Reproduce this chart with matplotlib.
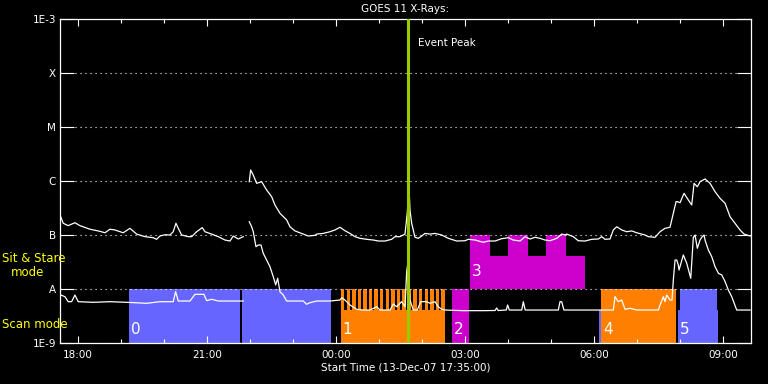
import matplotlib
matplotlib.use('Agg')
import matplotlib.pyplot as plt
import numpy as np

nan = float('nan')

# GOES 11 long channel (1-8 A); time in hours from 13-Dec-07 00:00 UT
long_time = [17.605, 17.658, 17.774, 17.930, 18.047, 18.279, 18.512, 18.628, 18.744, 18.860,
             19.053, 19.209, 19.365, 19.558, 19.751, 19.830, 19.907, 20.023, 20.140, 20.216,
             20.279, 20.333, 20.412, 20.565, 20.644, 20.760, 20.891, 20.953, 21.109, 21.263,
             21.419, 21.535, 21.612, 21.728, 21.844, 21.920,
             21.984, 22.016, 22.077, 22.156, 22.272, 22.388, 22.505, 22.581, 22.698, 22.853,
             22.930, 23.047, 23.202, 23.356, 23.512, 23.551, 23.705, 23.860, 23.977, 24.093,
             24.209, 24.326, 24.442, 24.558, 24.714, 24.867, 24.984, 25.140, 25.295, 25.372,
             25.488, 25.605, 25.658, 25.698, 25.721, 25.760, 25.837, 25.914, 25.993, 26.070,
             26.186, 26.302, 26.458, 26.612, 26.807, 27.000, 27.077, 27.233, 27.426, 27.542,
             27.698, 27.853, 28.007, 28.123, 28.279, 28.395, 28.512, 28.628, 28.744, 28.860,
             28.977, 29.133, 29.249, 29.326, 29.365, 29.519, 29.635, 29.791, 29.947, 30.100,
             30.179, 30.256, 30.372, 30.449, 30.528, 30.644, 30.760, 30.877, 30.993, 31.107,
             31.186, 31.263, 31.419, 31.535, 31.651, 31.767, 31.844, 31.907, 31.937, 32.000,
             32.093, 32.193, 32.272, 32.326, 32.402, 32.465, 32.581, 32.698, 32.814, 32.930,
             33.047, 33.163, 33.279, 33.395, 33.488, 33.628]
long_flux = [2.13e-7, 1.65e-7, 1.49e-7, 1.69e-7, 1.49e-7, 1.28e-7, 1.17e-7, 1.10e-7, 1.28e-7, 1.24e-7,
             1.10e-7, 1.33e-7, 1.04e-7, 9.31e-8, 8.91e-8, 8.32e-8, 9.58e-8, 1.01e-7, 1.00e-7, 1.15e-7,
             1.65e-7, 1.33e-7, 1.00e-7, 9.31e-8, 9.31e-8, 1.15e-7, 1.37e-7, 1.15e-7, 1.04e-7, 9.31e-8,
             8.07e-8, 7.74e-8, 9.58e-8, 8.43e-8, 9.31e-8, nan,
             9.70e-7, 1.60e-6, 1.29e-6, 9.06e-7, 9.70e-7, 6.81e-7, 5.12e-7, 3.60e-7, 2.52e-7, 1.90e-7,
             1.42e-7, 1.19e-7, 1.07e-7, 9.58e-8, 9.86e-8, 1.04e-7, 1.07e-7, 1.15e-7, 1.24e-7, 1.39e-7,
             1.20e-7, 1.07e-7, 9.31e-8, 8.68e-8, 8.32e-8, 8.07e-8, 7.74e-8, 7.74e-8, 8.32e-8, 9.31e-8,
             9.31e-8, 1.04e-7, 2.59e-7, 7.84e-7, 2.90e-7, 1.65e-7, 9.06e-8, 8.68e-8, 9.58e-8, 1.07e-7,
             1.04e-7, 1.07e-7, 1.00e-7, 8.68e-8, 7.74e-8, 7.83e-8, 8.32e-8, 8.07e-8, 7.32e-8, 7.74e-8,
             7.74e-8, 8.54e-8, 8.91e-8, 8.07e-8, 7.74e-8, 9.31e-8, 8.43e-8, 9.06e-8, 8.68e-8, 8.07e-8,
             7.83e-8, 8.68e-8, 1.04e-7, 1.00e-7, 1.04e-7, 9.31e-8, 7.83e-8, 7.74e-8, 8.32e-8, 8.43e-8,
             9.31e-8, 8.32e-8, 8.43e-8, 1.24e-7, 1.42e-7, 1.24e-7, 1.15e-7, 1.19e-7, 1.10e-7, 1.04e-7,
             1.00e-7, 9.31e-8, 9.06e-8, 1.15e-7, 1.33e-7, 1.39e-7, 2.52e-7, 4.14e-7, 4.14e-7, 3.97e-7,
             5.92e-7, 4.45e-7, 3.60e-7, 9.06e-7, 7.84e-7, 9.70e-7, 1.09e-6, 9.06e-7, 6.34e-7, 4.78e-7,
             3.87e-7, 2.18e-7, 1.65e-7, 1.24e-7, 1.04e-7, 9.58e-8]

# short channel (0.5-4 A)
short_time = [17.605, 17.698, 17.774, 17.853, 17.930, 18.007, 18.356, 18.744, 19.133, 19.598,
              19.907, 20.216, 20.272, 20.333, 20.605, 20.721, 20.930, 20.993, 21.109, 21.263,
              21.844, 21.920,
              21.984, 22.040, 22.077, 22.140, 22.193, 22.256, 22.309, 22.388, 22.465, 22.542,
              22.598, 22.644, 22.698, 22.774, 22.853, 23.240, 23.316, 23.395, 23.551, 23.860,
              24.093, 24.133, 24.209, 24.326, 24.481, 24.635, 24.791, 24.947, 25.023, 25.256,
              25.333, 25.412, 25.526, 25.605, 25.644, 25.674, 25.721, 25.798, 25.891, 25.970,
              26.109, 26.186, 26.302, 26.379, 26.458, 26.535, 26.960, 27.426, 27.700, 27.737,
              27.770, 27.960, 27.991, 28.030, 28.320, 28.356, 28.400, 29.170, 29.209, 29.249,
              29.300, 30.140, 30.293, 30.450, 30.488, 30.565, 30.644, 30.721, 30.837, 30.993,
              31.495, 31.535, 31.612, 31.651, 31.691, 31.767,
              31.814, 31.844, 31.884, 31.923, 31.960, 31.977, 32.077, 32.156, 32.249, 32.309,
              32.349, 32.402, 32.465, 32.505, 32.558, 32.581, 32.658, 32.737, 32.814, 32.893,
              32.970, 33.047, 33.123, 33.202, 33.318, 33.628]
short_flux = [7.74e-9, 7.20e-9, 5.82e-9, 5.82e-9, 7.74e-9, 5.82e-9, 5.67e-9, 5.82e-9, 5.67e-9, 5.43e-9,
              5.82e-9, 5.82e-9, 8.91e-9, 5.99e-9, 5.99e-9, 7.97e-9, 7.97e-9, 6.07e-9, 6.45e-9, 5.99e-9,
              5.99e-9, nan,
              1.76e-7, 1.42e-7, 1.15e-7, 6.07e-8, 6.53e-8, 6.53e-8, 4.58e-8, 3.44e-8, 2.59e-8, 1.69e-8,
              1.19e-8, 1.58e-8, 8.91e-9, 7.74e-9, 5.99e-9, 5.99e-9, 5.21e-9, 5.58e-9, 5.99e-9, 5.99e-9,
              6.25e-9, 6.90e-9, 6.25e-9, 5.06e-9, 4.21e-9, 4.08e-9, 4.08e-9, 4.70e-9, 4.08e-9, 4.08e-9,
              5.27e-9, 4.70e-9, 5.82e-9, 4.70e-9, 2.09e-8, 3.16e-8, 6.25e-9, 4.08e-9, 4.08e-9, 5.82e-9,
              5.82e-9, 5.43e-9, 5.82e-9, 4.70e-9, 4.21e-9, 4.08e-9, 3.97e-9, 3.97e-9, 4.00e-9, 4.45e-9,
              4.00e-9, 4.08e-9, 5.06e-9, 4.08e-9, 4.08e-9, 5.82e-9, 4.08e-9, 4.08e-9, 5.82e-9, 5.82e-9,
              4.08e-9, 4.08e-9, 4.08e-9, 4.08e-9, 7.20e-9, 5.82e-9, 6.25e-9, 4.21e-9, 4.39e-9, 4.08e-9,
              4.08e-9, 5.06e-9, 7.20e-9, 5.82e-9, 7.74e-9, 6.25e-9,
              6.25e-9, 1.47e-8, 3.44e-8, 3.44e-8, 2.78e-8, 2.25e-8, 4.27e-8, 2.99e-8, 1.58e-8, 9.06e-8,
              1.00e-7, 5.67e-8, 8.07e-8, 9.06e-8, 1.00e-7, 8.07e-8, 5.28e-8, 3.97e-8, 2.59e-8, 1.95e-8,
              1.82e-8, 1.37e-8, 9.58e-9, 7.20e-9, 4.08e-9, 4.08e-9]

event_peak = 25.674

# observing mode blocks (start h, end h, bottom, top, colour)
blk_start = [19.186, 21.814, 24.116, 26.698, 27.116, 27.116, 28.000, 28.884, 30.116, 30.163, 31.960, 32.000, 32.860]
blk_end = [21.767, 23.884, 26.495, 27.093, 29.791, 27.581, 28.465, 29.349, 30.163, 31.907, 32.000, 32.860, 32.884]
blk_bottom = [1e-9, 1e-9, 1e-9, 1e-9, 1e-8, 1e-8, 1e-8, 1e-8, 1e-9, 1e-9, 1e-9, 1e-9, 1e-9]
blk_top = [1e-8, 1e-8, 4.1e-9, 1e-8, 4.08e-8, 1e-7, 1e-7, 1e-7, 4.1e-9, 1e-8, 4.1e-9, 1e-8, 4.1e-9]
blk_color = ['#6666ff', '#6666ff', '#ff8000', '#cc00cc', '#cc00cc', '#cc00cc', '#cc00cc', '#cc00cc',
             '#6666ff', '#ff8000', '#6666ff', '#6666ff', '#6666ff']

# rasters inside scan 1
stripe_start = [24.116, 24.246, 24.375, 24.505, 24.634, 24.764, 24.893, 25.023, 25.152, 25.282,
                25.411, 25.541, 25.670, 25.800, 25.929, 26.059, 26.188, 26.318, 26.447]
stripe_width = 0.08

scan_label = ['0', '1', '2', '3', '4', '5']
scan_label_x = [19.186, 24.116, 26.698, 27.116, 30.163, 31.960]
scan_label_y = [1.75e-9, 1.75e-9, 1.75e-9, 2.1e-8, 1.75e-9, 1.75e-9]

fig = plt.figure(figsize=(7.68, 3.84), dpi=100, facecolor='black')
ax = fig.add_axes([60/768, 41/384, 691/768, 324/384])
ax.set_facecolor('black')
ax.set_yscale('log')
ax.set_ylim(1e-9, 1e-3)
ax.set_xlim(17.5833, 33.65)

ax.bar(blk_start, np.array(blk_top) - np.array(blk_bottom), width=np.array(blk_end) - np.array(blk_start),
       bottom=blk_bottom, align='edge', color=blk_color, linewidth=0, zorder=1)
ax.bar(stripe_start, 1e-8 - 1e-9, width=stripe_width, bottom=1e-9, align='edge',
       color='#ff8000', linewidth=0, zorder=1)

for lab, lx, ly in zip(scan_label, scan_label_x, scan_label_y):
    ax.text(lx + 0.04, ly, lab, color='white', fontsize=11, ha='left', va='center', zorder=4)

ax.plot(long_time, long_flux, color='white', lw=0.9, zorder=3)
ax.plot(short_time, short_flux, color='white', lw=0.9, zorder=3)

ax.axvline(event_peak, color='#99cc00', lw=2.2, zorder=5)
ax.text(event_peak + 0.23, 3.6e-4, 'Event Peak', color='white', fontsize=7.5, va='center', ha='left')

ax.set_yticks([1e-9, 1e-8, 1e-7, 1e-6, 1e-5, 1e-4, 1e-3])
ax.set_yticklabels(['1E-9', 'A', 'B', 'C', 'M', 'X', '1E-3'])
ax.yaxis.set_minor_locator(matplotlib.ticker.NullLocator())
ax.tick_params(axis='y', which='major', direction='in', length=10, width=0.8, left=True, right=True,
               colors='white', labelsize=7.5, pad=3)
ax.yaxis.grid(True, color='white', linestyle=(0, (1, 3.5)), linewidth=0.8)

ax.set_xticks([18, 21, 24, 27, 30, 33])
ax.set_xticklabels(['18:00', '21:00', '00:00', '03:00', '06:00', '09:00'])
ax.set_xticks(range(18, 34), minor=True)
ax.tick_params(axis='x', which='major', direction='in', length=5, width=0.8, top=True, bottom=True,
               colors='white', labelsize=7.5, pad=5)
ax.tick_params(axis='x', which='minor', direction='in', length=3, width=0.8, top=True, bottom=True,
               colors='white')

for sp in ax.spines.values():
    sp.set_color('white')
    sp.set_linewidth(0.9)

ax.set_title('GOES 11 X-Rays:', color='white', fontsize=7.5, pad=5)
ax.set_xlabel('Start Time (13-Dec-07 17:35:00)', color='white', fontsize=7.5, labelpad=2)

fig.text(2/768, 1 - 259/384, 'Sit & Stare', color='yellow', fontsize=8.5, ha='left', va='center')
fig.text(28/768, 1 - 272/384, 'mode', color='yellow', fontsize=8.5, ha='center', va='center')
fig.text(2/768, 1 - 325/384, 'Scan mode', color='yellow', fontsize=8.5, ha='left', va='center')

fig.savefig('out.png', dpi=100, facecolor='black')
